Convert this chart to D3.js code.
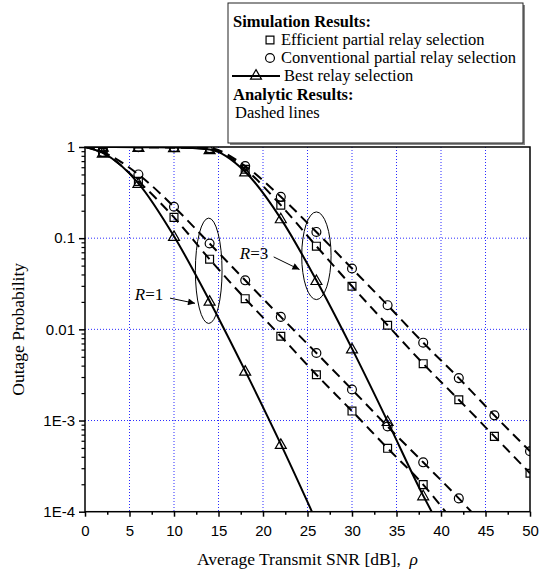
<!DOCTYPE html>
<html>
<head>
<meta charset="utf-8">
<script src="https://cdn.jsdelivr.net/npm/d3@7"></script>
<style>
  html, body { margin: 0; padding: 0; background: #fff; }
  svg { display: block; }
  .tick text { font-family: "Liberation Sans", Arial, sans-serif; font-size: 15px; fill: #000; }
  .serif { font-family: "Liberation Serif", "Times New Roman", serif; }
</style>
</head>
<body>
<div id="chart"></div>
<script>
// ---- data ----
const snrMarks = [2, 6, 10, 14, 18, 22, 26, 30, 34, 38, 42, 46, 50];

// R = 1
const bestR1 = [0.86, 0.40, 0.105, 0.0205, 0.0035, 0.00055];
const effR1 = [0.87, 0.42, 0.169, 0.0588, 0.0217, 0.0084, 0.00318, 0.00127, 0.000496, 0.000198];
const convR1 = [0.88, 0.50, 0.221, 0.0874, 0.0345, 0.0137, 0.0055, 0.00219, 0.00086, 0.000348, 0.00014];
// R = 3
const bestR3 = [1, 0.995, 0.99, 0.94, 0.535, 0.164, 0.0345, 0.00614, 0.00098, 0.00015];
const effR3 = [1, 0.995, 0.99, 0.96, 0.57, 0.23, 0.0817, 0.0297, 0.0111, 0.0042, 0.00169, 0.00067, 0.000264];
const convR3 = [1, 0.995, 0.99, 0.97, 0.618, 0.284, 0.117, 0.0465, 0.0184, 0.00714, 0.00292, 0.00114, 0.00046];

// where each curve leaves the bottom of the plot (SNR at 1E-4), null = runs off the right
const curveEnds = { bestR1: 25.5, effR1: 40.5, convR1: 43.4, bestR3: 38.95, effR3: null, convR3: null };

const xTicks = [0, 5, 10, 15, 20, 25, 30, 35, 40, 45, 50];
const yTicks = [1e-4, 1e-3, 0.01, 0.1, 1];
const yTickLabels = ['1E-4', '1E-3', '0.01', '0.1', '1'];

// ---- layout ----
const W = 546, H = 577;
const plot = { left: 85, right: 530, top: 147, bottom: 511.7 };

const svg = d3.select('#chart').append('svg')
  .attr('width', W).attr('height', H);

const x = d3.scaleLinear().domain([0, 50]).range([plot.left, plot.right]);
const y = d3.scaleLog().domain([1e-4, 1]).range([plot.bottom, plot.top]);

svg.append('defs').append('clipPath').attr('id', 'plotClip')
  .append('rect')
  .attr('x', plot.left).attr('y', plot.top)
  .attr('width', plot.right - plot.left).attr('height', plot.bottom - plot.top);

// grid
const grid = svg.append('g');
xTicks.slice(1, -1).forEach(t => {
  grid.append('line')
    .attr('x1', x(t)).attr('x2', x(t)).attr('y1', plot.top).attr('y2', plot.bottom)
    .attr('stroke', '#2a2aff').attr('stroke-width', 1).attr('stroke-dasharray', '1,2');
});
yTicks.slice(1, -1).forEach(t => {
  grid.append('line')
    .attr('x1', plot.left).attr('x2', plot.right).attr('y1', y(t)).attr('y2', y(t))
    .attr('stroke', '#2a2aff').attr('stroke-width', 1).attr('stroke-dasharray', '1,2');
});

// axes
const xMinor = d3.range(2.5, 50, 5);
svg.append('g')
  .attr('transform', `translate(0,${plot.bottom})`)
  .call(d3.axisBottom(x).tickValues(xTicks).tickSize(5).tickPadding(9).tickSizeOuter(0))
  .call(g => g.select('.domain').remove())
  .call(g => g.selectAll('.tick line').attr('stroke-width', 1.5));
svg.append('g')
  .attr('transform', `translate(0,${plot.bottom})`)
  .call(d3.axisBottom(x).tickValues(xMinor).tickSize(3).tickFormat('').tickSizeOuter(0))
  .call(g => g.select('.domain').remove())
  .call(g => g.selectAll('.tick line').attr('stroke-width', 1.5));

const yMinor = [];
[1e-4, 1e-3, 0.01, 0.1].forEach(d => { for (let k = 2; k <= 9; k++) yMinor.push(d * k); });
svg.append('g')
  .attr('transform', `translate(${plot.left},0)`)
  .call(d3.axisLeft(y).tickValues(yTicks).tickSize(6).tickPadding(4).tickSizeOuter(0)
    .tickFormat((d, i) => yTickLabels[i]))
  .call(g => g.select('.domain').remove())
  .call(g => g.selectAll('.tick line').attr('stroke-width', 1.5));
svg.append('g')
  .attr('transform', `translate(${plot.left},0)`)
  .call(d3.axisLeft(y).tickValues(yMinor).tickSize(3.5).tickFormat('').tickSizeOuter(0))
  .call(g => g.select('.domain').remove())
  .call(g => g.selectAll('.tick line').attr('stroke-width', 1.2));

// curves
const body = svg.append('g').attr('clip-path', 'url(#plotClip)');
const line = d3.line().x(d => x(d[0])).y(d => y(d[1])).curve(d3.curveMonotoneX);

function curvePoints(vals, end) {
  const pts = [[0, 1]].concat(vals.map((v, i) => [snrMarks[i], v]));
  if (end != null) pts.push([end, 1e-4]);
  return pts;
}

const series = [
  { key: 'effR1', vals: effR1, dash: '10,6', mark: 'square' },
  { key: 'convR1', vals: convR1, dash: '10,6', mark: 'circle' },
  { key: 'effR3', vals: effR3, dash: '10,6', mark: 'square' },
  { key: 'convR3', vals: convR3, dash: '10,6', mark: 'circle' },
  { key: 'bestR1', vals: bestR1, dash: null, mark: 'triangle' },
  { key: 'bestR3', vals: bestR3, dash: null, mark: 'triangle' }
];

series.forEach(s => {
  body.append('path')
    .attr('d', line(curvePoints(s.vals, curveEnds[s.key])))
    .attr('fill', 'none').attr('stroke', '#000')
    .attr('stroke-width', 2)
    .attr('stroke-dasharray', s.dash);
});

const symbols = {
  square: d3.symbol().type(d3.symbolSquare).size(62),
  circle: d3.symbol().type(d3.symbolCircle).size(62),
  triangle: d3.symbol().type(d3.symbolTriangle).size(52)
};

function drawMark(g, type, cx, cy) {
  return g.append('path')
    .attr('d', symbols[type]())
    .attr('transform', `translate(${cx},${cy + (type === 'triangle' ? 1 : 0)})`)
    .attr('fill', 'none').attr('stroke', '#000').attr('stroke-width', 1.2);
}

series.forEach(s => {
  s.vals.forEach((v, i) => drawMark(body, s.mark, x(snrMarks[i]), y(v)));
});

// frame
svg.append('rect')
  .attr('x', plot.left).attr('y', plot.top)
  .attr('width', plot.right - plot.left).attr('height', plot.bottom - plot.top)
  .attr('fill', 'none').attr('stroke', '#000').attr('stroke-width', 1.5);

// annotations: ellipses + labels
const ellipses = [
  { cx: 13.9, top: 0.166, bottom: 0.0116, half: 1.5 },
  { cx: 26.0, top: 0.194, bottom: 0.0212, half: 1.65 }
];
ellipses.forEach(e => {
  svg.append('ellipse')
    .attr('cx', x(e.cx)).attr('cy', (y(e.top) + y(e.bottom)) / 2)
    .attr('rx', x(e.cx + e.half) - x(e.cx)).attr('ry', (y(e.bottom) - y(e.top)) / 2)
    .attr('fill', 'none').attr('stroke', '#000').attr('stroke-width', 1);
});

const labels = [
  { text: '1', at: [5.6, 0.0208], from: [9.55, 0.022], to: [12.36, 0.0193] },
  { text: '3', at: [17.4, 0.0598], from: [21.2, 0.0623], to: [24.1, 0.0453] }
];
svg.append('defs').append('marker')
  .attr('id', 'arrow').attr('viewBox', '0 0 10 10')
  .attr('refX', 10).attr('refY', 5)
  .attr('markerWidth', 9).attr('markerHeight', 7)
  .attr('markerUnits', 'userSpaceOnUse')
  .attr('orient', 'auto')
  .append('path').attr('d', 'M0,0 L10,5 L0,10 Z').attr('fill', '#000');

labels.forEach(l => {
  const t = svg.append('text').attr('class', 'serif')
    .attr('x', x(l.at[0])).attr('y', y(l.at[1]))
    .attr('font-size', '17px');
  t.append('tspan').attr('font-style', 'italic').text('R');
  t.append('tspan').text('=' + l.text);
  svg.append('line')
    .attr('x1', x(l.from[0])).attr('y1', y(l.from[1]))
    .attr('x2', x(l.to[0])).attr('y2', y(l.to[1]))
    .attr('stroke', '#000').attr('stroke-width', 1)
    .attr('marker-end', 'url(#arrow)');
});

// axis titles
svg.append('text').attr('class', 'serif')
  .attr('transform', `translate(24,${(plot.top + plot.bottom) / 2}) rotate(-90)`)
  .attr('text-anchor', 'middle').attr('font-size', '17.5px')
  .text('Outage Probability');

const xt = svg.append('text').attr('class', 'serif')
  .attr('x', (plot.left + plot.right) / 2).attr('y', 565)
  .attr('text-anchor', 'middle').attr('font-size', '17.5px');
xt.append('tspan').text('Average Transmit SNR [dB],\u00a0\u00a0');
xt.append('tspan').attr('font-style', 'italic').text('\u03c1');

// legend
const lg = svg.append('g');
lg.append('rect').attr('x', 230).attr('y', 5).attr('width', 295).attr('height', 140)
  .attr('fill', '#888');
lg.append('rect').attr('x', 228).attr('y', 3).attr('width', 295).attr('height', 140)
  .attr('fill', '#fff').attr('stroke', '#222').attr('stroke-width', 1);

const legendText = (txt, lx, ly, bold) => lg.append('text').attr('class', 'serif')
  .attr('x', lx).attr('y', ly).attr('font-size', '16.5px')
  .attr('font-weight', bold ? 'bold' : 'normal').text(txt);

legendText('Simulation Results:', 233, 26.5, true);
drawMark(lg, 'square', 270, 40);
legendText('Efficient partial relay selection', 281, 45);
drawMark(lg, 'circle', 270, 58);
legendText('Conventional partial relay selection', 281, 63);
lg.append('line').attr('x1', 232).attr('x2', 280).attr('y1', 76).attr('y2', 76)
  .attr('stroke', '#000').attr('stroke-width', 2);
drawMark(lg, 'triangle', 256, 75);
legendText('Best relay selection', 284, 81);
legendText('Analytic Results:', 233, 99.5, true);
legendText('Dashed lines', 235, 117.5);
</script>
</body>
</html>
